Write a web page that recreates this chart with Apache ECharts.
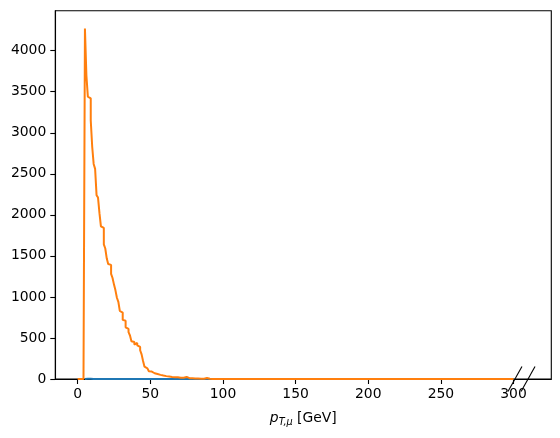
<!DOCTYPE html>
<html>
<head>
<meta charset="utf-8">
<script src="https://cdn.jsdelivr.net/npm/echarts@6/dist/echarts.min.js"></script>
<style>
html,body{margin:0;padding:0;background:#fff;}
#c{width:560px;height:438px;}
</style>
</head>
<body>
<div id="c"></div>
<script>
// Histogram bins (GeV): bin i covers [binStart + i*binWidth, binStart + (i+1)*binWidth)
const binStart = 0;
const binWidth = 1;
const binCount = 300;
// orange histogram counts for bins 0..99 (bins 100..299 are zero)
const orangeCounts = [
  0, 0, 0, 0, 0, 4270, 3700, 3440, 3420, 3150,
  2830, 2620, 2560, 2240, 2210, 2020, 1860, 1840, 1640, 1590,
  1470, 1400, 1390, 1280, 1230, 1150, 1080, 990, 940, 830,
  810, 720, 710, 630, 610, 570, 530, 460, 450, 420,
  440, 410, 390, 350, 300, 220, 150, 130, 110, 95,
  90, 82, 70, 66, 60, 55, 50, 45, 42, 38,
  35, 32, 30, 28, 25, 24, 22, 24, 20, 18,
  16, 14, 15, 12, 25, 10, 10, 8, 9, 7,
  6, 6, 5, 5, 4, 4, 3, 3, 12, 3,
  2, 2, 1, 2, 1, 1, 1, 0, 1, 0
];
// blue histogram: starts at 5 GeV, stays essentially at zero
const blueStart = 5;
const blueCounts = [2, 2, 2, 2, 2, 1, 1, 1, 1, 1];
const blueEnd = 300;
const xTicks = [0, 50, 100, 150, 200, 250, 300];
const yTicks = [0, 500, 1000, 1500, 2000, 2500, 3000, 3500, 4000];
// axis-break marker segments [x0, y0, x1, y1] in data units
const breakMarks = [
  [296.2, -152, 305.8, 152],
  [305.2, -152, 314.8, 152]
];

function stepData(start, width, counts, endEdge) {
  const pts = [[start, 0]];
  for (let i = 0; i < counts.length; i++) pts.push([start + i * width, counts[i]]);
  const lastEdge = start + counts.length * width;
  pts.push([lastEdge, 0]);
  if (endEdge !== undefined && endEdge > lastEdge) pts.push([endEdge, 0]);
  return pts;
}
const orangeFull = [];
for (let i = 0; i < binCount; i++) orangeFull.push(i < orangeCounts.length ? orangeCounts[i] : 0);
const orangeData = stepData(binStart, binWidth, orangeFull);
const blueData = stepData(blueStart, binWidth, blueCounts, blueEnd);

const FONT = 'DejaVu Sans';
const chart = echarts.init(document.getElementById('c'), null, {renderer: 'canvas'});
const series = [
  {type: 'line', step: 'end', data: blueData, symbol: 'none', clip: true,
   lineStyle: {color: '#1f77b4', width: 2}, z: 2},
  {type: 'line', step: 'end', data: orangeData, symbol: 'none', clip: true,
   lineStyle: {color: '#ff7f0e', width: 2}, z: 3}
];
breakMarks.forEach(m => series.push({
  type: 'line', data: [[m[0], m[1]], [m[2], m[3]]], symbol: 'none', clip: false,
  lineStyle: {color: '#000', width: 1.1}, z: 5, silent: true
}));

chart.setOption({
  animation: false,
  backgroundColor: '#fff',
  grid: {left: 55.3, right: 8.7, top: 10.7, bottom: 59, show: true,
         borderColor: '#000', borderWidth: 1.1, backgroundColor: 'transparent'},
  xAxis: {
    type: 'value', min: -15.4, max: 326,
    splitLine: {show: false},
    axisLine: {show: true, onZero: false, lineStyle: {color: '#000', width: 1.1}},
    axisTick: {show: true, inside: false, length: 5, customValues: xTicks, lineStyle: {color: '#000', width: 1.1}},
    axisLabel: {customValues: xTicks, margin: 8, color: '#000', fontFamily: FONT, fontSize: 13.9,
                formatter: v => String(v)},
    name: '{i|p}{s|T,μ}{r| [GeV]}',
    nameLocation: 'middle', nameGap: 31,
    nameTextStyle: {
      color: '#000', fontFamily: FONT, fontSize: 13.9,
      rich: {
        i: {fontFamily: FONT, fontStyle: 'italic', fontSize: 13.9, color: '#000'},
        s: {fontFamily: FONT, fontStyle: 'italic', fontSize: 9.7, color: '#000', padding: [7, 0, 0, 0]},
        r: {fontFamily: FONT, fontSize: 13.9, color: '#000'}
      }
    }
  },
  yAxis: {
    type: 'value', min: 0, max: 4487,
    splitLine: {show: false},
    axisLine: {show: true, onZero: false, lineStyle: {color: '#000', width: 1.1}},
    axisTick: {show: true, inside: false, length: 5, customValues: yTicks, lineStyle: {color: '#000', width: 1.1}},
    axisLabel: {customValues: yTicks, margin: 9, color: '#000', fontFamily: FONT, fontSize: 13.9,
                formatter: v => String(v)}
  },
  series: series
});
</script>
</body>
</html>
